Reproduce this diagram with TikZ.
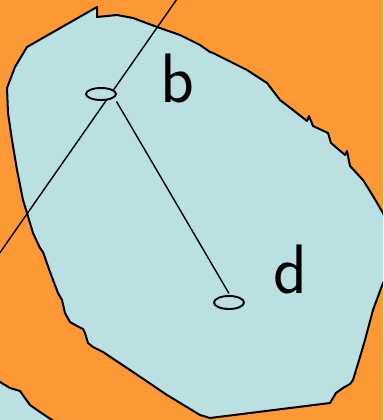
\documentclass[tikz,border=0pt]{standalone}
\usepackage{fontspec}
\usepackage{pdfrender}
\usetikzlibrary{shapes.geometric}
\definecolor{bgorange}{RGB}{253,153,52}
\definecolor{blobblue}{RGB}{186,224,226}
\tikzset{
  outline/.style={draw=black, line width=2pt, line join=round, line cap=round},
  edge/.style={draw=black, line width=1.4pt},
  hole/.style={ellipse, draw=black, fill=blobblue, line width=1.9pt, inner sep=0pt},
  letter/.style={anchor=base west, inner sep=0pt, font=\sffamily\fontsize{70}{70}\selectfont}
}
\newcommand{\heavy}[1]{\textpdfrender{TextRenderingMode=FillStroke,LineWidth=1.6pt,LineJoin=1}{#1}}
\begin{document}
\begin{tikzpicture}[x=1pt,y=-1pt]
\useasboundingbox (0,0) rectangle (383,420);
\fill[bgorange] (0,0) rectangle (383,420);
\begin{scope}
\clip (0,0) rectangle (383,420);
% main blob
\path[outline, fill=blobblue]
  (97,7) -- (97,17) -- (117,15) -- (133,18) -- (157,27) -- (180,35) -- (200,45)
  -- (210,52) -- (213,53) -- (247,70) -- (267,83) -- (280,100) -- (293,110)
  -- (307,121) -- (309,116) -- (313,126) -- (328,133) -- (331,143) -- (345,155)
  -- (347,151) -- (350,166) -- (363,180) -- (373,196) -- (383,213) -- (395,240)
  -- (395,270) -- (383,283) -- (373,310) -- (365,340) -- (360,357) -- (353,380)
  -- (350,384) -- (343,388) -- (336,393) -- (330,403) -- (210,418) -- (200,415)
  -- (167,395) -- (133,372) -- (103,352) -- (93,347) -- (88,343) -- (85,333)
  -- (83,329) -- (77,326) -- (70,322) -- (65,313) -- (62,300) -- (58,293)
  -- (50,272) -- (43,252) -- (40,248) -- (33,233) -- (27,213) -- (23,200)
  -- (17,170) -- (12,140) -- (8,113) -- (7,88) -- (15,67) -- (27,47) -- cycle;
% bottom-left piece
\fill[blobblue] (-5,382) -- (0,382) -- (10,388) -- (20,391) -- (25,398) -- (30,405)
  -- (40,412) -- (55,422) -- (-5,422) -- cycle;
\draw[outline] (-5,379) -- (0,382) -- (10,388) -- (20,391) -- (25,398) -- (30,405)
  -- (40,412) -- (55,422);
% connectors
\coordinate (t1) at (177,-1);
\coordinate (t2) at (-1,254);
\coordinate (s1) at (116.5,101.5);
\coordinate (s2) at (229,293.5);
\draw[edge] (t1) -- (t2);
\draw[edge] (s1) -- (s2);
\end{scope}
% holes
\node[hole, minimum width=30pt, minimum height=12pt] (hb) at (101,94) {};
\node[hole, minimum width=30pt, minimum height=13pt] (hd) at (229,302.5) {};
% labels
\node[letter] (lb) at (160,102) {\heavy{b}};
\node[letter] (ld) at (273,293) {\heavy{d}};
\end{tikzpicture}
\end{document}
